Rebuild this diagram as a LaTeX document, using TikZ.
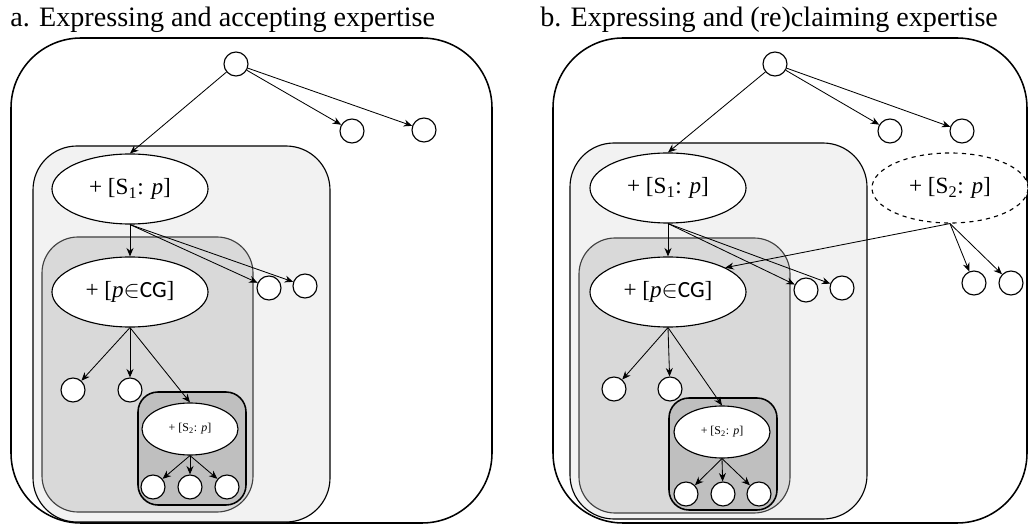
\documentclass[tikz,border=0pt]{standalone}
\usepackage{fontspec}
\setmainfont{Liberation Serif}
\setsansfont{Carlito}
\usetikzlibrary{arrows.meta,shapes.geometric}

\begin{document}
\begin{tikzpicture}[
    x=0.025cm, y=-0.025cm,
    leaf/.style={circle, draw, thick, fill=white, minimum size=0.6cm, inner sep=0pt},
    claim/.style={ellipse, draw, thick, fill=white, minimum width=3.9cm, minimum height=1.75cm, inner sep=0pt, font=\fontsize{16.5}{18}\selectfont},
    smallclaim/.style={claim, minimum width=2.4cm, minimum height=1.3cm, font=\fontsize{8.5}{10}\selectfont},
    title/.style={anchor=base west, inner sep=0pt, font=\fontsize{20}{24}\selectfont},
    arrow/.style={-{Stealth[length=6pt,width=5pt]}, semithick},
    outerbox/.style={draw, line width=1.1pt, rounded corners=1.75cm},
    lightbox/.style={draw, thick, fill=black!5, rounded corners=1.1cm},
    midbox/.style={draw=black!75, thick, fill=black!15, rounded corners=0.9cm},
    darkbox/.style={draw, line width=1.1pt, fill=black!25, rounded corners=0.5cm}
]
\useasboundingbox (0,0) rectangle (1028,525);

% Titles
\node[title] (titleA) at (10,27) {a. Expressing and accepting expertise};
\node[title] (titleB) at (540,27) {b. Expressing and (re)claiming expertise};

% Panel a: nested contexts
\draw[outerbox] (11,38) rectangle (492,523);
\draw[lightbox] (33,146) rectangle (330,522);
\draw[midbox] (42,237) rectangle (253,512);
\draw[darkbox] (138,392) rectangle (246,505);

\node[leaf] (rootA) at (236,64) {};
\node[leaf] (topA1) at (352,131) {};
\node[leaf] (topA2) at (424,130) {};
\node[claim] (s1A) at (130,189) {+ [S\textsubscript{1}: \textit{p}]};
\node[leaf] (c1A) at (269,288) {};
\node[leaf] (c2A) at (305,286) {};
\node[claim] (pcgA) at (130,292) {+ [\textit{p}$\in$\textsf{CG}]};
\node[leaf] (d1A) at (73,390) {};
\node[leaf] (d2A) at (130,390) {};
\node[smallclaim] (s2A) at (190,429) {+ [S\textsubscript{2}: \textit{p}]};
\node[leaf] (e1A) at (153,487) {};
\node[leaf] (e2A) at (190,487) {};
\node[leaf] (e3A) at (227,487) {};

\draw[arrow] (rootA) -- (s1A.north);
\draw[arrow] (rootA) -- (topA1);
\draw[arrow] (rootA) -- (topA2);
\draw[arrow] (s1A.south) -- (pcgA.north);
\draw[arrow] (s1A.south) -- (c1A);
\draw[arrow] (s1A.south) -- (c2A);
\draw[arrow] (pcgA.south) -- (d1A);
\draw[arrow] (pcgA.south) -- (d2A);
\draw[arrow] (pcgA.south) -- (s2A.north);
\draw[arrow] (s2A.south) -- (e1A);
\draw[arrow] (s2A.south) -- (e2A);
\draw[arrow] (s2A.south) -- (e3A);

% Panel b: nested contexts
\draw[outerbox] (553,38) rectangle (1027,523);
\draw[lightbox] (570,143) rectangle (867,519);
\draw[midbox] (579,238) rectangle (790,513);
\draw[darkbox] (669,398) rectangle (777,510);

\node[leaf] (rootB) at (775,64) {};
\node[leaf] (topB1) at (890,131) {};
\node[leaf] (topB2) at (962,131) {};
\node[claim] (s1B) at (668,188) {+ [S\textsubscript{1}: \textit{p}]};
\node[leaf] (c1B) at (806,290) {};
\node[leaf] (c2B) at (842,288) {};
\node[claim] (pcgB) at (668,292) {+ [\textit{p}$\in$\textsf{CG}]};
\node[leaf] (d1B) at (614,389) {};
\node[leaf] (d2B) at (670,389) {};
\node[smallclaim] (s2B) at (722,432) {+ [S\textsubscript{2}: \textit{p}]};
\node[leaf] (e1B) at (686,494) {};
\node[leaf] (e2B) at (723,494) {};
\node[leaf] (e3B) at (759,494) {};

% reclaim outside the shared context
\node[claim, dashed] (s2out) at (950,188) {+ [S\textsubscript{2}: \textit{p}]};
\node[leaf] (f1B) at (974,283) {};
\node[leaf] (f2B) at (1011,283) {};

\draw[arrow] (rootB) -- (s1B.north);
\draw[arrow] (rootB) -- (topB1);
\draw[arrow] (rootB) -- (topB2);
\draw[arrow] (s1B.south) -- (pcgB.north);
\draw[arrow] (s1B.south) -- (c1B);
\draw[arrow] (s1B.south) -- (c2B);
\draw[arrow] (pcgB.south) -- (d1B);
\draw[arrow] (pcgB.south) -- (d2B);
\draw[arrow] (pcgB.south) -- (s2B.north);
\draw[arrow] (s2B.south) -- (e1B);
\draw[arrow] (s2B.south) -- (e2B);
\draw[arrow] (s2B.south) -- (e3B);
\draw[arrow] (s2out.south) -- (pcgB.23);
\draw[arrow] (s2out.south) -- (f1B);
\draw[arrow] (s2out.south) -- (f2B);

\end{tikzpicture}
\end{document}
